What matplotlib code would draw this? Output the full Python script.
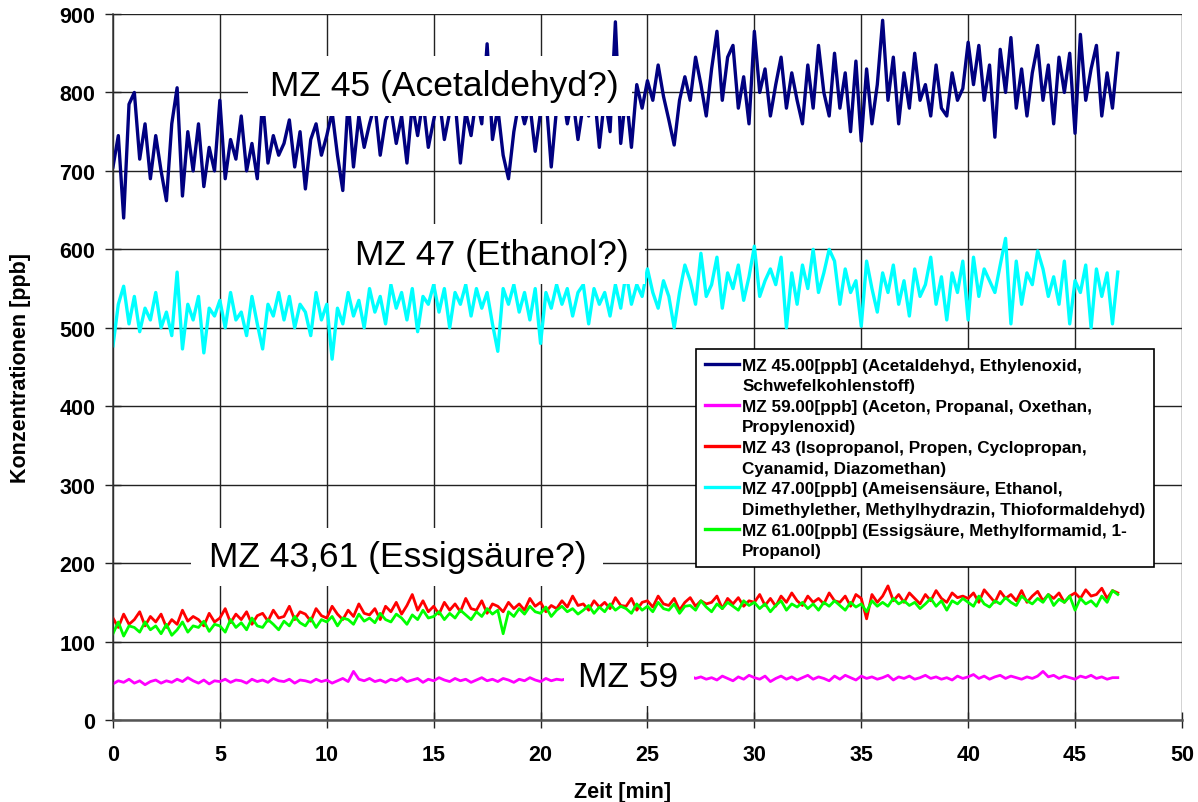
import numpy as np
import matplotlib.pyplot as plt
from matplotlib.lines import Line2D
from matplotlib.patches import Rectangle

plt.rcParams['font.family'] = ['Liberation Sans', 'DejaVu Sans']

# sampling interval of the logged signals [min]
step_min = 0.25

# MZ 45 [ppb], 4 samples per minute, 0 ... 47 min
mz45 = [
    705, 745, 640, 785,  800, 715, 760, 690,  745, 700, 662, 760,  806, 668, 750, 700,
    760, 680, 730, 700,  790, 690, 740, 715,  770, 700, 735, 690,  790, 710, 745, 720,
    735, 765, 705, 750,  677, 740, 760, 720,  745, 775, 720, 675,  790, 705, 770, 730,
    760, 785, 720, 765,  780, 735, 770, 710,  785, 745, 790, 730,  765, 795, 740, 775,
    790, 710, 775, 745,  795, 760, 862, 740,  780, 720, 690, 750,  790, 760, 785, 725,
    775, 795, 705, 780,  805, 760, 795, 740,  785, 770, 805, 730,  795, 750, 890, 735,
    800, 730, 810, 780,  815, 790, 835, 795,  765, 733, 790, 820,  790, 845, 810, 770,
    830, 878, 790, 845,  860, 780, 820, 760,  878, 800, 830, 770,  810, 845, 780, 825,
    790, 760, 835, 780,  860, 800, 770, 850,  780, 825, 750, 840,  738, 830, 760, 810,
    892, 790, 845, 760,  825, 780, 850, 790,  810, 770, 835, 780,  770, 825, 790, 805,
    864, 810, 860, 790,  835, 743, 855, 800,  870, 780, 830, 770,  825, 860, 790, 835,
    760, 845, 800, 850,  748, 874, 790, 830,  860, 770, 825, 780,  850,
]

# MZ 59 [ppb]
mz59 = [
    46, 50, 48, 52,  47, 50, 45, 49,  51, 47, 50, 48,  52, 49, 54, 50,
    47, 51, 46, 50,  49, 52, 48, 51,  50, 47, 52, 49,  51, 48, 53, 50,
    49, 52, 47, 51,  50, 48, 52, 49,  51, 47, 50, 53,  49, 62, 52, 50,
    53, 49, 51, 48,  52, 50, 54, 49,  51, 53, 48, 52,  50, 54, 51, 49,
    53, 50, 52, 48,  51, 54, 50, 52,  49, 53, 51, 48,  52, 50, 54, 51,
    49, 53, 50, 52,  51, 53, 50, 52,  54, 51, 53, 50,  52, 55, 51, 53,
    50, 54, 52, 55,  53, 51, 54, 52,  55, 52, 50, 54,  56, 53, 55, 52,
    54, 51, 56, 53,  50, 55, 52, 57,  54, 52, 56, 49,  53, 56, 52, 55,
    51, 54, 57, 52,  55, 53, 50, 56,  52, 57, 54, 51,  56, 53, 55, 52,
    54, 57, 51, 55,  53, 56, 52, 54,  57, 53, 55, 52,  54, 51, 56, 53,
    55, 58, 53, 56,  52, 55, 57, 53,  56, 54, 52, 55,  53, 56, 62, 55,
    57, 53, 56, 54,  52, 56, 54, 57,  53, 55, 52, 54,  54,
]

# MZ 43 [ppb]
mz43 = [
    130, 118, 135, 122,  128, 138, 120, 132,  125, 135, 118, 128,  122, 140, 126, 132,
    128, 120, 136, 125,  130, 142, 124, 135,  128, 138, 122, 133,  136, 126, 140, 130,
    132, 145, 128, 138,  135, 126, 142, 133,  130, 145, 135, 128,  140, 132, 148, 136,
    134, 142, 128, 145,  138, 150, 135, 146,  160, 140, 152, 138,  145, 135, 150, 140,
    148, 138, 155, 142,  140, 152, 136, 148,  145, 138, 150, 142,  148, 140, 155, 145,
    150, 138, 146, 142,  152, 144, 158, 146,  148, 140, 152, 144,  150, 142, 156, 146,
    145, 155, 140, 150,  152, 144, 158, 148,  146, 155, 140, 150,  156, 145, 152, 148,
    150, 158, 142, 155,  148, 156, 145, 152,  150, 160, 146, 155,  145, 158, 150, 162,
    152, 146, 158, 150,  155, 148, 162, 152,  150, 158, 145, 160,  155, 129, 160, 150,
    158, 171, 152, 160,  150, 162, 155, 148,  160, 152, 165, 155,  150, 162, 156, 158,
    155, 162, 150, 166,  158, 150, 164, 155,  160, 152, 165, 150,  158, 164, 152, 160,
    155, 162, 150, 158,  162, 155, 166, 158,  160, 168, 155, 165,  162,
]

# MZ 47 [ppb]
mz47 = [
    477, 530, 553, 505,  540, 495, 525, 510,  545, 500, 520, 490,  571, 473, 530, 510,
    540, 468, 525, 515,  535, 500, 545, 510,  520, 490, 540, 505,  473, 530, 515, 545,
    510, 540, 500, 530,  520, 490, 545, 510,  530, 460, 525, 505,  545, 515, 535, 500,
    550, 520, 540, 505,  555, 525, 545, 510,  550, 495, 540, 530,  555, 520, 550, 500,
    545, 530, 555, 515,  550, 525, 545, 505,  470, 550, 530, 555,  520, 545, 510, 550,
    480, 545, 525, 555,  530, 550, 515, 545,  555, 505, 550, 530,  545, 515, 555, 525,
    570, 530, 555, 540,  575, 545, 525, 560,  540, 500, 545, 580,  560, 530, 595, 540,
    555, 590, 525, 570,  550, 580, 535, 565,  604, 540, 560, 575,  555, 590, 500, 570,
    530, 580, 550, 600,  545, 570, 600, 585,  530, 575, 545, 560,  502, 585, 550, 520,
    570, 545, 580, 530,  560, 515, 575, 540,  555, 590, 530, 565,  510, 570, 545, 585,
    510, 590, 540, 575,  560, 545, 580, 614,  505, 585, 530, 570,  555, 598, 575, 540,
    565, 530, 585, 505,  560, 545, 580, 500,  575, 540, 570, 505,  571,
]

# MZ 61 [ppb]
mz61 = [
    110, 125, 107, 120,  118, 112, 125, 115,  120, 110, 122, 108,  115, 125, 112, 120,
    118, 126, 113, 122,  120, 112, 128, 118,  124, 115, 130, 120,  118, 128, 122, 115,
    126, 120, 132, 124,  120, 130, 118, 128,  125, 132, 120, 130,  128, 122, 135, 126,
    130, 124, 136, 128,  125, 135, 130, 122,  134, 128, 140, 130,  132, 138, 128, 136,
    130, 140, 134, 128,  138, 132, 142, 135,  140, 110, 138, 132,  142, 135, 145, 138,
    136, 144, 132, 140,  145, 138, 142, 135,  140, 146, 136, 144,  138, 148, 140, 145,
    142, 136, 148, 140,  145, 138, 150, 142,  140, 148, 136, 145,  146, 140, 152, 144,
    138, 148, 142, 150,  145, 140, 152, 146,  150, 142, 148, 138,  146, 152, 140, 148,
    144, 150, 142, 148,  140, 150, 145, 152,  146, 140, 150, 144,  148, 138, 152, 145,
    150, 145, 155, 148,  152, 146, 150, 142,  148, 155, 145, 152,  140, 152, 148, 155,
    150, 145, 158, 148,  144, 152, 148, 156,  150, 146, 158, 152,  148, 155, 150, 160,
    146, 154, 150, 158,  140, 155, 148, 152,  145, 158, 150, 165,  160,
]

series = [
    (mz45, '#000080', 2.4, ['MZ 45.00[ppb] (Acetaldehyd, Ethylenoxid,', 'Schwefelkohlenstoff)']),
    (mz59, '#FF00FF', 2.0, ['MZ 59.00[ppb] (Aceton, Propanal, Oxethan,', 'Propylenoxid)']),
    (mz43, '#FF0000', 2.0, ['MZ 43 (Isopropanol, Propen, Cyclopropan,', 'Cyanamid, Diazomethan)']),
    (mz47, '#00FFFF', 2.4, ['MZ 47.00[ppb] (Ameisensäure, Ethanol,',
                            'Dimethylether, Methylhydrazin, Thioformaldehyd)']),
    (mz61, '#00FF00', 2.0, ['MZ 61.00[ppb] (Essigsäure, Methylformamid, 1-', 'Propanol)']),
]

fig = plt.figure(figsize=(11.98, 8.03), dpi=100)
ax = fig.add_axes([0.0943, 0.1021, 0.8923, 0.8792])

handles, labels = [], []
for vals, col, lw, lab in series:
    t = np.arange(len(vals)) * step_min
    ax.plot(t, vals, color=col, lw=lw, zorder=2)
    # two legend rows per trace: coloured line on the first, blank on the second
    handles += [Line2D([], [], color=col, lw=2.4), Line2D([], [], color='none')]
    labels += lab

ax.set_xlim(0, 50)
ax.set_ylim(0, 900)
ax.set_xticks(np.arange(0, 51, 5))
ax.set_yticks(np.arange(0, 901, 100))
ax.grid(True, color='#222222', lw=1.0, zorder=1)
ax.set_axisbelow(True)
for s in ['top', 'right']:
    ax.spines[s].set_visible(False)
ax.spines['left'].set_color('#333333')
ax.spines['bottom'].set_color('#555555')
ax.spines['left'].set_linewidth(1.1)
ax.spines['bottom'].set_linewidth(1.8)
ax.tick_params(axis='both', direction='inout', length=11, width=1.0, color='#222222',
               labelsize=15.5)
ax.tick_params(axis='x', pad=12)
ax.tick_params(axis='y', pad=7)
for lbl in ax.get_xticklabels() + ax.get_yticklabels():
    lbl.set_fontweight('bold')

ax.set_xlabel('Zeit [min]', fontsize=15.5, fontweight='bold')
ax.set_ylabel('Konzentrationen [ppb]', fontsize=15.5, fontweight='bold')
ax.xaxis.set_label_coords(0.477, -0.087)
ax.yaxis.set_label_coords(-0.0767, 0.5)

# white label boxes that mask grid and traces behind the annotations
boxes = [
    ((6.3, 770), 18.0, 76, 'MZ 45 (Acetaldehyd?)', (15.5, 809)),
    ((10.1, 556), 14.8, 76, 'MZ 47 (Ethanol?)', (17.7, 593)),
    ((3.65, 171), 19.25, 74, 'MZ 43,61 (Essigsäure?)', (13.3, 208)),
    ((21.1, 18), 6.1, 75, 'MZ 59', (24.1, 55)),
]
for (x0, y0), w, h, txt, (tx, ty) in boxes:
    ax.add_patch(Rectangle((x0, y0), w, h, facecolor='white', edgecolor='none', zorder=3))
    ax.text(tx, ty, txt, fontsize=25.5, ha='center', va='center', zorder=4)

leg = ax.legend(handles, labels, loc='upper left', bbox_to_anchor=(696 / 1198, 1 - 350 / 803),
                bbox_transform=fig.transFigure, borderaxespad=0, fancybox=False,
                framealpha=1, edgecolor='black', prop={'weight': 'bold', 'size': 12.3},
                handlelength=2.0, handletextpad=0.2, labelspacing=0.33, borderpad=0.5)
leg.get_frame().set_linewidth(1.2)
leg.set_zorder(5)

fig.savefig('out.png', dpi=100)
